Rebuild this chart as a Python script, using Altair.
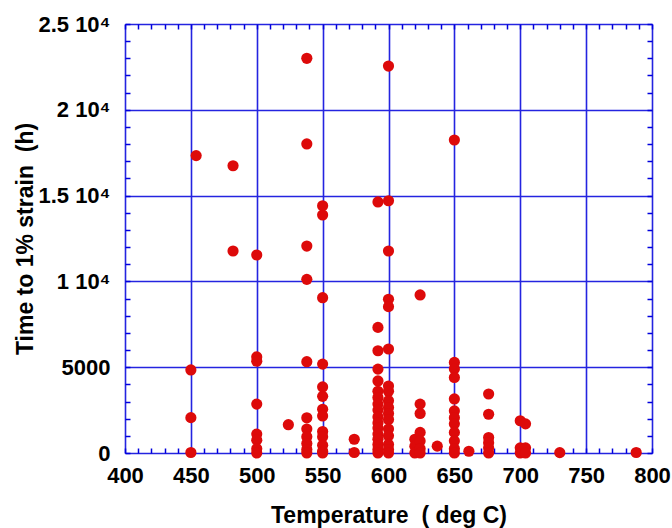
import altair as alt
import pandas as pd

# Temperature (deg C) and time to 1% strain (h)
temp_450 = [4840, 2060, 30]
temp_454 = [17330]
temp_482 = [16740, 11770]
temp_500 = [11540, 5600, 5350, 2850, 1100, 750, 250, 0]
temp_524 = [1650]
temp_538 = [23000, 18010, 12060, 10120, 5320, 2050, 1400, 950, 550, 200, 0]
temp_550 = [14410, 13870, 9050, 5180, 3850, 3300, 2550, 2160, 1250, 950, 450, 100, 0]
temp_574 = [800, 30]
temp_592 = [14630, 7320, 5960, 4890, 4200, 3600, 3230, 2850, 2500, 2100, 1750, 1450, 1100, 800, 500, 200, 0]
temp_600 = [22550, 14700, 11770, 8960, 8530, 6060, 3900, 3600, 3050, 2650, 2300, 1950, 1400, 1000, 500, 200, 0]
temp_620 = [800, 400, 0]
temp_624 = [9210, 2850, 2300, 1200, 700, 250, 0]
temp_637 = [400]
temp_650 = [18240, 5280, 4900, 4400, 3150, 2450, 2060, 1700, 1200, 700, 250, 0]
temp_661 = [100]
temp_676 = [3440, 2260, 900, 600, 300, 0]
temp_700 = [1880, 300, 0]
temp_704 = [1700, 300, 0]
temp_730 = [20]
temp_788 = [30]

groups = {
    450: temp_450, 454: temp_454, 482: temp_482, 500: temp_500, 524: temp_524,
    538: temp_538, 550: temp_550, 574: temp_574, 592: temp_592, 600: temp_600,
    620: temp_620, 624: temp_624, 637: temp_637, 650: temp_650, 661: temp_661,
    676: temp_676, 700: temp_700, 704: temp_704, 730: temp_730, 788: temp_788,
}

x_major = [400, 450, 500, 550, 600, 650, 700, 750, 800]
x_minor = list(range(400, 801, 10))
y_major = [0, 5000, 10000, 15000, 20000, 25000]
y_minor = list(range(0, 25001, 1000))

rows = [{"temp": t, "time": v} for t, vals in groups.items() for v in vals]
df = pd.DataFrame(rows)

BLUE = "#0000dd"
GRID = "#2424e0"
FONT = "Liberation Sans"

xscale = alt.Scale(domain=[400, 800], nice=False, zero=False)
yscale = alt.Scale(domain=[0, 25000], nice=False, zero=True)

ylabel_expr = ("datum.value == 25000 ? '2.5 10\u2074' : datum.value == 20000 ? '2 10\u2074' : "
               "datum.value == 15000 ? '1.5 10\u2074' : datum.value == 10000 ? '1 10\u2074' : datum.label")

base = alt.Chart(df)

main = base.mark_circle(size=125, color="#dd0a0a", opacity=1).encode(
    x=alt.X("temp:Q", scale=xscale, axis=alt.Axis(
        orient="bottom", values=x_major, grid=True, gridColor=GRID, gridWidth=1.6,
        ticks=False, domain=False, labelFont=FONT, labelFontSize=22, labelFontWeight="bold",
        labelColor="black", labelPadding=12, labelFlush=False,
        title="Temperature \u00a0( deg C)", titleFont=FONT, titleFontSize=23, titleFontWeight="bold",
        titleColor="black", titleY=69, titleBaseline="alphabetic")),
    y=alt.Y("time:Q", scale=yscale, axis=alt.Axis(
        orient="left", values=y_major, grid=True, gridColor=GRID, gridWidth=1.6,
        ticks=False, domain=False, format="d", labelExpr=ylabel_expr,
        labelFont=FONT, labelFontSize=22, labelFontWeight="bold", labelColor="black",
        labelPadding=15, labelFlush=False,
        title="Time to 1% strain \u00a0(h)", titleFont=FONT, titleFontSize=23, titleFontWeight="bold",
        titleColor="black", titleX=-93, titleBaseline="alphabetic")),
)

# inward minor ticks: bottom and right
ticks_a = base.mark_circle(opacity=0).encode(
    x=alt.X("temp:Q", scale=xscale, axis=alt.Axis(
        orient="top", offset=-429, values=x_minor, ticks=True, tickSize=5, tickColor=BLUE,
        tickWidth=1.5, labels=False, domain=False, grid=False, title=None)),
    y=alt.Y("time:Q", scale=yscale, axis=alt.Axis(
        orient="right", offset=-527, values=y_minor, ticks=True, tickSize=5, tickColor=BLUE,
        tickWidth=1.5, labels=False, domain=False, grid=False, title=None)),
)

# inward minor ticks: top and left
ticks_b = base.mark_circle(opacity=0).encode(
    x=alt.X("temp:Q", scale=xscale, axis=alt.Axis(
        orient="bottom", offset=-429, values=x_minor, ticks=True, tickSize=5, tickColor=BLUE,
        tickWidth=1.5, labels=False, domain=False, grid=False, title=None)),
    y=alt.Y("time:Q", scale=yscale, axis=alt.Axis(
        orient="left", offset=-527, values=y_minor, ticks=True, tickSize=5, tickColor=BLUE,
        tickWidth=1.5, labels=False, domain=False, grid=False, title=None)),
)

chart = alt.layer(ticks_a, ticks_b, main).resolve_axis(
    x="independent", y="independent"
).properties(
    width=527, height=429,
    autosize=alt.AutoSizeParams(type="none"),
    padding={"left": 125, "top": 24, "right": 20, "bottom": 75},
).configure_view(
    stroke=BLUE, strokeWidth=2.5
).configure(background="white")

chart.save("out.html", embed_options={"renderer": "svg", "actions": False})
